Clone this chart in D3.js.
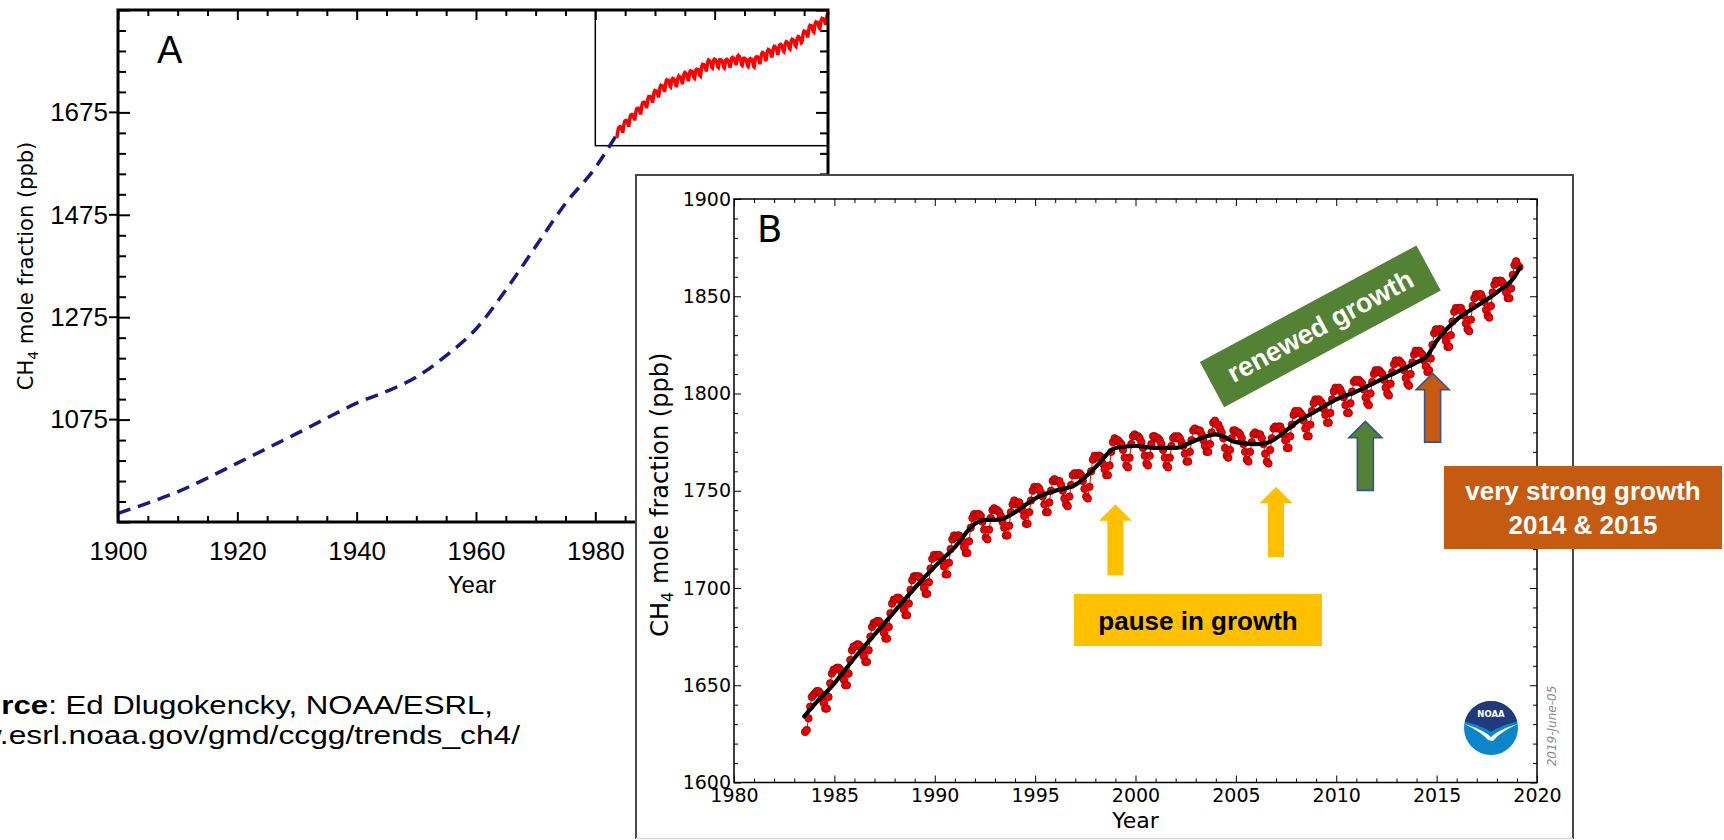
<!DOCTYPE html>
<html><head><meta charset="utf-8">
<script src="https://cdn.jsdelivr.net/npm/d3@7"></script>
<style>
html,body{margin:0;padding:0;background:#fff;}
svg{display:block;}
</style></head><body>
<svg id="c" width="1724" height="840"></svg>
<script>
// ---------------- DATA ----------------
// Panel A: reconstructed (firn/ice) CH4, dashed
const historicYears  = [1900,1905,1910,1915,1920,1925,1930,1935,1940,1945,1950,1955,1960,1965,1970,1975,1980,1983.5];
const historicValues = [892, 912, 934, 961, 990, 1019,1048,1078,1107,1130,1158,1200,1252,1328,1413,1497,1567,1630];

// Global monthly means (red dots), first value = July 1983
const monthlyYears = [1983,1984,1985,1986,1987,1988,1989,1990,1991,1992,1993,1994,1995,1996,1997,1998,1999,2000,2001,2002,2003,2004,2005,2006,2007,2008,2009,2010,2011,2012,2013,2014,2015,2016,2017,2018,2019];
const firstMonthIndex = 6;
const monthlyValues = [
 [1626,1627,1633,1639,1644,1645],
 [1646,1647,1647,1646,1644,1641,1638,1638,1644,1651,1656,1658],
 [1658,1659,1659,1658,1656,1653,1650,1650,1656,1663,1668,1670],
 [1670,1671,1671,1670,1668,1665,1662,1662,1668,1675,1680,1682],
 [1682,1683,1683,1682,1680,1677,1674,1674,1680,1687,1692,1694],
 [1694,1695,1695,1694,1692,1689,1686,1686,1692,1699,1704,1706],
 [1706,1706,1706,1705,1703,1700,1697,1697,1703,1710,1715,1717],
 [1716,1717,1717,1716,1714,1711,1707,1707,1713,1720,1725,1727],
 [1726,1727,1727,1726,1724,1721,1718,1718,1724,1731,1736,1738],
 [1737,1738,1738,1737,1734,1730,1726,1725,1730,1736,1740,1741],
 [1740,1740,1739,1737,1734,1731,1727,1727,1732,1739,1743,1745],
 [1743,1744,1744,1742,1740,1737,1733,1733,1739,1745,1750,1752],
 [1751,1752,1751,1749,1747,1743,1739,1739,1744,1750,1755,1756],
 [1755,1755,1755,1753,1750,1746,1743,1742,1747,1753,1758,1759],
 [1758,1759,1759,1758,1755,1751,1747,1746,1752,1760,1766,1768],
 [1767,1768,1768,1767,1764,1761,1758,1758,1763,1770,1775,1777],
 [1776,1776,1775,1774,1771,1767,1763,1762,1767,1774,1778,1779],
 [1778,1778,1777,1775,1772,1768,1764,1763,1768,1774,1778,1778],
 [1777,1777,1776,1774,1771,1767,1763,1762,1767,1773,1777,1778],
 [1777,1778,1777,1775,1773,1769,1765,1765,1770,1776,1781,1782],
 [1781,1781,1781,1779,1776,1773,1770,1770,1774,1780,1785,1786],
 [1784,1784,1782,1780,1777,1772,1768,1767,1771,1777,1781,1781],
 [1780,1780,1779,1777,1774,1770,1766,1765,1770,1775,1779,1780],
 [1779,1779,1779,1777,1774,1769,1765,1764,1771,1777,1782,1783],
 [1782,1783,1783,1781,1779,1776,1772,1772,1778,1784,1789,1791],
 [1790,1791,1790,1789,1786,1782,1778,1778,1784,1791,1795,1797],
 [1796,1797,1796,1795,1792,1789,1785,1785,1790,1797,1801,1803],
 [1802,1803,1802,1800,1798,1794,1790,1790,1795,1801,1806,1807],
 [1806,1807,1806,1805,1802,1798,1795,1794,1800,1806,1810,1812],
 [1811,1812,1811,1810,1807,1803,1800,1799,1805,1811,1815,1817],
 [1816,1817,1816,1815,1812,1808,1805,1804,1810,1816,1820,1822],
 [1821,1822,1821,1820,1817,1814,1811,1812,1818,1825,1831,1833],
 [1832,1833,1833,1832,1830,1827,1824,1824,1830,1837,1842,1844],
 [1843,1844,1844,1842,1840,1836,1833,1832,1838,1845,1849,1851],
 [1850,1851,1851,1849,1847,1843,1840,1839,1845,1852,1856,1858],
 [1857,1858,1858,1857,1855,1852,1849,1849,1854,1861,1866,1868],
 [1866,1865]
];

// Deseasonalized trend (black line)
const trendYears  = [1983.5,1984,1985,1986,1987,1988,1989,1990,1991,1992,1992.5,1993,1993.5,1994,1995,1996,1997,1998,1999,2000,2001,2002,2003,2004,2005,2006,2006.5,2007,2008,2009,2010,2011,2012,2013,2014,2014.5,2015,2016,2017,2018,2019,2019.15];
const trendValues = [1634,1640,1651,1664,1676,1688,1700,1711,1721,1733,1735,1735,1736,1739,1746,1750,1753,1762,1772,1773,1772,1772,1776,1779,1775,1774,1774.5,1777,1785,1791,1797,1801,1806,1811,1816,1819,1827,1838,1845,1852,1862,1865];

// Tick labels
const aXTickLabels = [1900,1920,1940,1960,1980];
const aYTickLabels = [1075,1275,1475,1675];
const bXTickLabels = [1980,1985,1990,1995,2000,2005,2010,2015,2020];
const bYTickLabels = [1600,1650,1700,1750,1800,1850,1900];

// Annotation arrows (year, tip value, tail value)
const arrowYears = [1999, 2007, 2011.45, 2014.8];
const arrowTips  = [1743, 1752, 1785.7, 1810.4];
const arrowTails = [1706.5, 1716, 1750.2, 1775];
const arrowFills = ['#FFC000','#FFC000','#548235','#C55A11'];
const arrowStrokes = ['none','none','#2F5597','#2F5597'];

// ---------------- BUILD ----------------
const monthly = [];
monthlyValues.forEach((vals,i)=>{
  const yr = monthlyYears[i];
  const start = i===0 ? firstMonthIndex : 0;
  vals.forEach((v,j)=>monthly.push({t: yr + (start+j+0.5)/12, v}));
});
const historic = historicYears.map((t,i)=>({t, v: historicValues[i]}));
const trend = trendYears.map((t,i)=>({t, v: trendValues[i]}));

const svg = d3.select('#c');
svg.append('rect').attr('width',1724).attr('height',840).attr('fill','#fff');

function styleAxis(g, opts){
  g.select('.domain').remove();
  g.selectAll('.tick line').attr('stroke','#000').attr('stroke-width',opts.tw||1);
  g.selectAll('.tick text').attr('fill','#000').attr('font-family',opts.ff||'DejaVu Sans').attr('font-size',opts.fs||19);
  g.attr('font-family',null).attr('font-size',null);
  return g;
}

// ===== Panel A =====
const xA = d3.scaleLinear().domain([1900,2019]).range([118,828]);
const yA = d3.scaleLinear().domain([875,1875]).range([522,10]);
const aXMajor = d3.range(1900,2001,20);
const aXMinor = d3.range(1905,2019,5).filter(d=>d%20!==0);
const aYMajor = d3.range(875,1876,200);
const aYMinor = d3.range(915,1875,40).filter(d=>(d-875)%200!==0);
const gA = svg.append('g');
const fA = {ff:'Liberation Sans', fs:26, tw:2};

styleAxis(gA.append('g').attr('transform','translate(0,522)')
  .call(d3.axisBottom(xA).tickValues(aXMajor).tickSizeInner(-10).tickSizeOuter(0).tickPadding(19.5)
    .tickFormat(d=>aXTickLabels.includes(d)?d:'')), fA);
styleAxis(gA.append('g').attr('transform','translate(0,522)')
  .call(d3.axisBottom(xA).tickValues(aXMinor).tickSizeInner(-6).tickSizeOuter(0).tickFormat('')), fA);
styleAxis(gA.append('g').attr('transform','translate(0,10)')
  .call(d3.axisTop(xA).tickValues(aXMajor).tickSizeInner(-10).tickSizeOuter(0).tickFormat('')), fA);
styleAxis(gA.append('g').attr('transform','translate(0,10)')
  .call(d3.axisTop(xA).tickValues(aXMinor).tickSizeInner(-6).tickSizeOuter(0).tickFormat('')), fA);
styleAxis(gA.append('g').attr('transform','translate(118,0)')
  .call(d3.axisLeft(yA).tickValues(aYMajor).tickSizeInner(-12).tickSizeOuter(0).tickPadding(10)
    .tickFormat(d=>aYTickLabels.includes(d)?d:'')), fA);
styleAxis(gA.append('g').attr('transform','translate(118,0)')
  .call(d3.axisLeft(yA).tickValues(aYMinor).tickSizeInner(-8).tickSizeOuter(0).tickFormat('')), fA);
styleAxis(gA.append('g').attr('transform','translate(828,0)')
  .call(d3.axisRight(yA).tickValues(aYMajor).tickSizeInner(-12).tickSizeOuter(0).tickFormat('')), fA);
styleAxis(gA.append('g').attr('transform','translate(828,0)')
  .call(d3.axisRight(yA).tickValues(aYMinor).tickSizeInner(-8).tickSizeOuter(0).tickFormat('')), fA);
// outward stubs on major left ticks
gA.selectAll('line.stub').data(aYTickLabels).join('line')
  .attr('x1',109).attr('x2',118).attr('y1',d=>yA(d)).attr('y2',d=>yA(d))
  .attr('stroke','#000').attr('stroke-width',2);

// inset box
gA.append('rect').attr('x',xA(1980)).attr('y',yA(1875)).attr('width',xA(2019)-xA(1980)).attr('height',yA(1610)-yA(1875))
  .attr('fill','none').attr('stroke','#000').attr('stroke-width',1.5);

// data lines
gA.append('path').datum(historic)
  .attr('d', d3.line().x(d=>xA(d.t)).y(d=>yA(d.v)).curve(d3.curveMonotoneX))
  .attr('fill','none').attr('stroke','#1a1a82').attr('stroke-width',3.5).attr('stroke-dasharray','13,8');
gA.append('path').datum(monthly)
  .attr('d', d3.line().x(d=>xA(d.t)).y(d=>yA(d.v)))
  .attr('fill','none').attr('stroke','#ff0000').attr('stroke-width',3.5);

// frame
gA.append('rect').attr('x',118).attr('y',10).attr('width',710).attr('height',512)
  .attr('fill','none').attr('stroke','#000').attr('stroke-width',3);

gA.append('text').attr('x',157).attr('y',63).text('A')
  .attr('font-family','Liberation Sans').attr('font-size',38).attr('fill','#000');
gA.append('text').attr('x',472).attr('y',593).attr('text-anchor','middle').text('Year')
  .attr('font-family','Liberation Sans').attr('font-size',24).attr('fill','#000');
const ylA = gA.append('text').attr('transform','translate(33,266) rotate(-90)').attr('text-anchor','middle')
  .attr('font-family','DejaVu Sans').attr('font-size',21).attr('fill','#000');
ylA.append('tspan').text('CH');
ylA.append('tspan').text('4').attr('font-size',14).attr('dy',5);
ylA.append('tspan').text(' mole fraction (ppb)').attr('dy',-5);

// source text
const src = svg.append('g').attr('font-family','Liberation Sans').attr('fill','#000');
const s1 = src.append('text').attr('transform','translate(493,713.5) scale(1.2,1)').attr('text-anchor','end').attr('font-size',26);
s1.append('tspan').text('Source').attr('font-weight','bold');
s1.append('tspan').text(': Ed Dlugokencky, NOAA/ESRL,');
src.append('text').attr('transform','translate(520,743.5) scale(1.22,1)').attr('text-anchor','end').attr('font-size',26)
  .text('www.esrl.noaa.gov/gmd/ccgg/trends_ch4/');

// ===== Panel B =====
const gB = svg.append('g');
gB.append('rect').attr('x',636).attr('y',175).attr('width',937).attr('height',664).attr('fill','#fff');
gB.append('path').attr('d','M636,839 V175 H1573 V839').attr('fill','none').attr('stroke','#4a4a4a').attr('stroke-width',2);
gB.append('line').attr('x1',636).attr('x2',1573).attr('y1',838.5).attr('y2',838.5).attr('stroke','#d8d8d8').attr('stroke-width',1.5);

const xB = d3.scaleLinear().domain([1980,2020]).range([734,1537]);
const yB = d3.scaleLinear().domain([1600,1900]).range([782.5,199]);
const bXMinor = d3.range(1981,2020,1).filter(d=>d%5!==0);
const bYMinor = d3.range(1610,1900,10).filter(d=>d%50!==0);
const fB = {ff:'DejaVu Sans', fs:19, tw:1};

styleAxis(gB.append('g').attr('transform','translate(0,782.5)')
  .call(d3.axisBottom(xB).tickValues(bXTickLabels).tickSizeInner(-7).tickSizeOuter(0).tickPadding(6.5).tickFormat(d3.format('d'))), fB);
styleAxis(gB.append('g').attr('transform','translate(0,782.5)')
  .call(d3.axisBottom(xB).tickValues(bXMinor).tickSizeInner(-4).tickSizeOuter(0).tickFormat('')), fB);
styleAxis(gB.append('g').attr('transform','translate(0,199)')
  .call(d3.axisTop(xB).tickValues(bXTickLabels).tickSizeInner(-7).tickSizeOuter(0).tickFormat('')), fB);
styleAxis(gB.append('g').attr('transform','translate(0,199)')
  .call(d3.axisTop(xB).tickValues(bXMinor).tickSizeInner(-4).tickSizeOuter(0).tickFormat('')), fB);
styleAxis(gB.append('g').attr('transform','translate(734,0)')
  .call(d3.axisLeft(yB).tickValues(bYTickLabels).tickSizeInner(-7).tickSizeOuter(0).tickPadding(3).tickFormat(d3.format('d'))), fB);
styleAxis(gB.append('g').attr('transform','translate(734,0)')
  .call(d3.axisLeft(yB).tickValues(bYMinor).tickSizeInner(-4).tickSizeOuter(0).tickFormat('')), fB);
styleAxis(gB.append('g').attr('transform','translate(1537,0)')
  .call(d3.axisRight(yB).tickValues(bYTickLabels).tickSizeInner(-7).tickSizeOuter(0).tickFormat('')), fB);
styleAxis(gB.append('g').attr('transform','translate(1537,0)')
  .call(d3.axisRight(yB).tickValues(bYMinor).tickSizeInner(-4).tickSizeOuter(0).tickFormat('')), fB);

gB.append('rect').attr('x',734).attr('y',199).attr('width',1537-734).attr('height',782.5-199)
  .attr('fill','none').attr('stroke','#000').attr('stroke-width',1.5);

// red monthly series
gB.append('path').datum(monthly)
  .attr('d', d3.line().x(d=>xB(d.t)).y(d=>yB(d.v)))
  .attr('fill','none').attr('stroke','#ff0000').attr('stroke-width',1);
gB.selectAll('circle.m').data(monthly).join('circle').attr('class','m')
  .attr('cx',d=>xB(d.t)).attr('cy',d=>yB(d.v)).attr('r',3.7)
  .attr('fill','#f20000').attr('stroke','#8e0000').attr('stroke-width',0.8);
// trend
gB.append('path').datum(trend)
  .attr('d', d3.line().x(d=>xB(d.t)).y(d=>yB(d.v)).curve(d3.curveMonotoneX))
  .attr('fill','none').attr('stroke','#000').attr('stroke-width',4.2).attr('stroke-linecap','round');

gB.append('text').attr('x',757).attr('y',242).text('B')
  .attr('font-family','DejaVu Sans').attr('font-size',37).attr('fill','#000');
gB.append('text').attr('x',(xB(1980)+xB(2020))/2).attr('y',828).attr('text-anchor','middle').text('Year')
  .attr('font-family','DejaVu Sans').attr('font-size',22).attr('fill','#000');
const ylB = gB.append('text').attr('transform',`translate(668,${(yB(1600)+yB(1900))/2 + 4}) rotate(-90)`).attr('text-anchor','middle')
  .attr('font-family','DejaVu Sans').attr('font-size',24).attr('fill','#000');
ylB.append('tspan').text('CH');
ylB.append('tspan').text('4').attr('font-size',16).attr('dy',5);
ylB.append('tspan').text(' mole fraction (ppb)').attr('dy',-5);

// date stamp
gB.append('text').attr('transform','translate(1556,726) rotate(-90)').attr('text-anchor','middle')
  .attr('font-family','DejaVu Sans').attr('font-style','italic').attr('font-size',12).attr('fill','#8a8a8a')
  .text('2019-June-05');

// NOAA logo
const logo = gB.append('g').attr('transform','translate(1491,728)');
logo.append('circle').attr('r',27).attr('fill','#0b86cb');
logo.append('path').attr('d','M-26.2,-6.5 A27,27 0 0 1 26.2,-6.5 C17,-4 7,-1 0,4 C-7,-1 -17,-4 -26.2,-6.5 Z').attr('fill','#213a7c');
logo.append('path').attr('d','M-26.5,-4 C-16,-1 -7,3 0,9 C7,3 16,-1 26.5,-4 C16,1 8,6 2,13 L-3,12 C-8,6 -16,1 -26.5,-4 Z').attr('fill','#fff');
logo.append('text').attr('y',-11).attr('text-anchor','middle').attr('font-family','DejaVu Sans')
  .attr('font-size',8.5).attr('font-weight','bold').attr('fill','#fff').text('NOAA');

// arrows
const headLen = 16.5, headHalf = 16.5, shaftHalf = 8;
arrowYears.forEach((yr,i)=>{
  const cx = xB(yr), ty = yB(arrowTips[i]), by = yB(arrowTails[i]), hb = ty + headLen;
  const d = `M${cx},${ty} L${cx+headHalf},${hb} L${cx+shaftHalf},${hb} L${cx+shaftHalf},${by} L${cx-shaftHalf},${by} L${cx-shaftHalf},${hb} L${cx-headHalf},${hb} Z`;
  gB.append('path').attr('d',d).attr('fill',arrowFills[i])
    .attr('stroke',arrowStrokes[i]).attr('stroke-width',arrowStrokes[i]==='none'?0:1.6).attr('stroke-linejoin','miter');
});

// renewed growth (rotated green label)
const gr = gB.append('g').attr('transform','translate(1320.3,326.3) rotate(-28.3)');
gr.append('rect').attr('x',-123).attr('y',-25.6).attr('width',246).attr('height',51.3).attr('fill','#548235');
gr.append('text').attr('text-anchor','middle').attr('y',9).attr('font-family','Liberation Sans').attr('font-weight','bold')
  .attr('font-size',27).attr('fill','#fff').text('renewed growth');

// pause in growth
gB.append('rect').attr('x',1074).attr('y',594).attr('width',248).attr('height',52).attr('fill','#FFC000');
gB.append('text').attr('x',1198).attr('y',630).attr('text-anchor','middle').attr('font-family','Liberation Sans')
  .attr('font-weight','bold').attr('font-size',26).attr('fill','#000').text('pause in growth');

// very strong growth
svg.append('rect').attr('x',1444).attr('y',466).attr('width',278).attr('height',83).attr('fill','#C55A11');
svg.append('text').attr('x',1583).attr('y',500).attr('text-anchor','middle').attr('font-family','Liberation Sans')
  .attr('font-weight','bold').attr('font-size',26).attr('fill','#fff').text('very strong growth');
svg.append('text').attr('x',1583).attr('y',534).attr('text-anchor','middle').attr('font-family','Liberation Sans')
  .attr('font-weight','bold').attr('font-size',26).attr('fill','#fff').text('2014 & 2015');
</script>
</body></html>
